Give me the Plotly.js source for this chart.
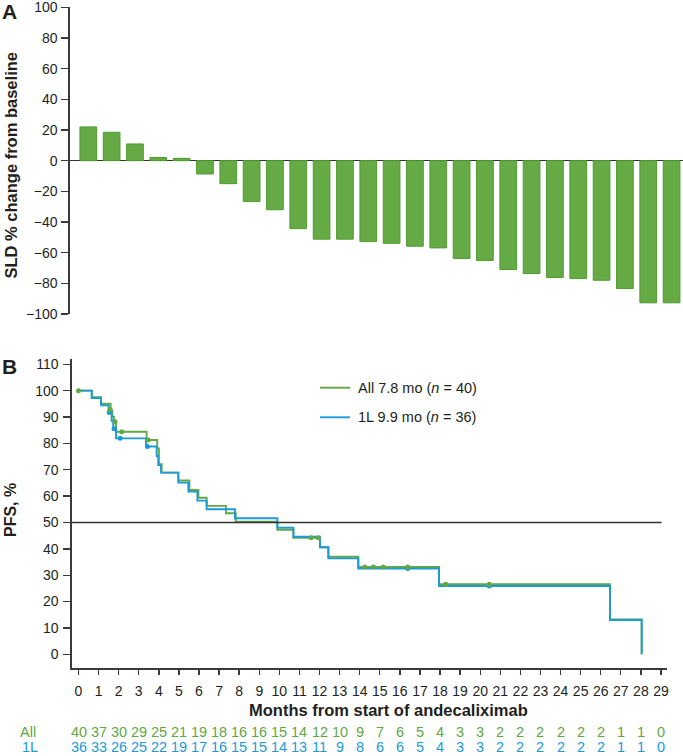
<!DOCTYPE html>
<html>
<head>
<meta charset="utf-8">
<script src="https://cdn.plot.ly/plotly-3.0.1.min.js"></script>
<style>html,body{margin:0;padding:0;background:#fff;}#chart{width:683px;height:756px;}</style>
</head>
<body>
<div id="chart"></div>
<script>
// ---- Panel A: waterfall (SLD % change from baseline) ----
const patientIndex = [1,2,3,4,5,6,7,8,9,10,11,12,13,14,15,16,17,18,19,20,21,22,23,24,25,26];
const sldChange = [22, 18.5, 10.9, 2, 1.5, -8.7, -15, -26.7, -32, -44.3, -51.2, -51.2, -52.8, -53.9, -55.8, -56.9, -63.8, -65.1, -71, -73.6, -76.2, -76.9, -78, -83.4, -92.7, -92.7];
const sldTicks = [100, 80, 60, 40, 20, 0, -20, -40, -60, -80, -100];

// ---- Panel B: Kaplan-Meier PFS ----
const allTime = [0, 0.66, 1.12, 1.6, 1.68, 1.76, 1.87, 3.39, 3.92, 4.0, 4.14, 4.97, 5.52, 5.97, 6.38, 7.34, 7.83, 9.9, 10.7, 12.02, 12.44, 13.93, 17.95, 26.46, 28.04];
const allPFS  = [100, 97.5, 95, 92.5, 90.1, 88.2, 84.4, 81.3, 78.1, 72.1, 68.9, 65.9, 62.3, 59.4, 56.3, 53.5, 50.3, 47.2, 44.2, 40.6, 37.0, 33.1, 26.6, 13.2, 0];
const allCensorTime = [0, 1.57, 1.82, 2.15, 3.48, 11.58, 11.94, 14.26, 14.68, 15.17, 16.39, 18.28, 20.45];
const allCensorPFS  = [100, 92.8, 88.2, 84.4, 81.3, 44.2, 44.2, 33.1, 33.1, 33.1, 33.1, 26.6, 26.6];

const l1Time = [0, 0.66, 1.12, 1.5, 1.65, 1.73, 1.87, 3.36, 3.89, 3.97, 4.11, 4.97, 5.47, 5.92, 6.38, 7.79, 9.9, 10.7, 12.02, 12.44, 13.93, 17.95, 26.46, 28.04];
const l1PFS  = [100, 97.2, 94.4, 91.7, 88.6, 85.5, 81.9, 78.8, 75.2, 71.8, 68.9, 65.1, 61.7, 58.3, 55.0, 51.6, 48.0, 44.6, 40.6, 36.4, 32.5, 25.9, 13.0, 0];
const l1CensorTime = [1.53, 1.77, 2.07, 3.43, 16.39, 20.45];
const l1CensorPFS  = [91.7, 85.5, 81.9, 78.8, 32.5, 25.9];

const monthTicks = [0,1,2,3,4,5,6,7,8,9,10,11,12,13,14,15,16,17,18,19,20,21,22,23,24,25,26,27,28,29];
const atRiskAll = [40,37,30,29,25,21,19,18,16,16,15,14,12,10,9,7,6,5,4,3,3,2,2,2,2,2,2,1,1,0];
const atRisk1L  = [36,33,26,25,22,19,17,16,15,15,14,13,11,9,8,6,6,5,4,3,3,2,2,2,2,2,2,1,1,0];
const pfsTicks = [0,10,20,30,40,50,60,70,80,90,100,110];

const legendLabels = ['All 7.8 mo (<i>n</i> = 40)', '1L 9.9 mo (<i>n</i> = 36)'];
const rowLabels = ['All', '1L'];

const GREEN = '#62a843';
const BLUE = '#1b9ad9';
const AXIS = '#3a3a3a';
const TXT = '#231f20';
const FONT = 'Liberation Sans, Arial, Helvetica, sans-serif';

const W = 683, H = 756;
const px = x => x / W;
const py = y => 1 - y / H;

const traces = [
  {
    type: 'bar', x: patientIndex, y: sldChange, xaxis: 'x', yaxis: 'y',
    marker: {color: '#65aa45', line: {color: '#4f9c2f', width: 1}},
    hoverinfo: 'y', showlegend: false
  },
  {
    type: 'scatter', mode: 'lines', x: allTime, y: allPFS, xaxis: 'x2', yaxis: 'y2',
    line: {color: GREEN, width: 1.9, shape: 'hv'}, showlegend: false, name: 'All'
  },
  {
    type: 'scatter', mode: 'lines', x: l1Time, y: l1PFS, xaxis: 'x2', yaxis: 'y2',
    line: {color: BLUE, width: 1.9, shape: 'hv'}, showlegend: false, name: '1L'
  },
  {
    type: 'scatter', mode: 'markers', x: l1CensorTime, y: l1CensorPFS, xaxis: 'x2', yaxis: 'y2',
    marker: {color: BLUE, size: 5}, showlegend: false, name: '1L censored'
  },
  {
    type: 'scatter', mode: 'markers', x: allCensorTime, y: allCensorPFS, xaxis: 'x2', yaxis: 'y2',
    marker: {color: GREEN, size: 5}, showlegend: false, name: 'All censored'
  }
];

const annotations = [];
// Panel letters
annotations.push({text: '<b>A</b>', xref: 'paper', yref: 'paper', x: px(9), y: py(12), xanchor: 'center', yanchor: 'middle', showarrow: false, font: {size: 21, color: TXT}});
annotations.push({text: '<b>B</b>', xref: 'paper', yref: 'paper', x: px(9), y: py(366), xanchor: 'center', yanchor: 'middle', showarrow: false, font: {size: 21, color: TXT}});
// Axis titles
annotations.push({text: '<b>SLD % change from baseline</b>', xref: 'paper', yref: 'paper', x: px(10), y: py(165.5), xanchor: 'center', yanchor: 'middle', textangle: -90, showarrow: false, font: {size: 16.5, color: TXT}});
annotations.push({text: '<b>PFS, %</b>', xref: 'paper', yref: 'paper', x: px(10), y: py(510), xanchor: 'center', yanchor: 'middle', textangle: -90, showarrow: false, font: {size: 16, color: TXT}});
annotations.push({text: '<b>Months from start of andecaliximab</b>', xref: 'paper', yref: 'paper', x: px(388), y: py(710), xanchor: 'center', yanchor: 'middle', showarrow: false, font: {size: 16.5, color: TXT}});
// Legend
annotations.push({text: legendLabels[0], xref: 'paper', yref: 'paper', x: px(356), y: py(387.7), xanchor: 'left', yanchor: 'middle', showarrow: false, font: {size: 14.5, color: TXT}});
annotations.push({text: legendLabels[1], xref: 'paper', yref: 'paper', x: px(356), y: py(417.3), xanchor: 'left', yanchor: 'middle', showarrow: false, font: {size: 14.5, color: TXT}});
// Number at risk table
const ROW1 = 732, ROW2 = 747;
annotations.push({text: rowLabels[0], xref: 'paper', yref: 'paper', x: px(28), y: py(ROW1), xanchor: 'center', yanchor: 'middle', showarrow: false, font: {size: 14.5, color: GREEN}});
annotations.push({text: rowLabels[1], xref: 'paper', yref: 'paper', x: px(29.5), y: py(ROW2), xanchor: 'center', yanchor: 'middle', showarrow: false, font: {size: 14.5, color: BLUE}});
monthTicks.forEach((m, i) => {
  annotations.push({text: String(atRiskAll[i]), xref: 'x2', yref: 'paper', x: m, y: py(ROW1), xanchor: 'center', yanchor: 'middle', showarrow: false, font: {size: 14.5, color: GREEN}});
  annotations.push({text: String(atRisk1L[i]), xref: 'x2', yref: 'paper', x: m, y: py(ROW2), xanchor: 'center', yanchor: 'middle', showarrow: false, font: {size: 14.5, color: BLUE}});
});

const shapes = [
  // 50% reference line
  {type: 'line', xref: 'x2', yref: 'y2', x0: -0.3236, x1: 29.03, y0: 50, y1: 50, line: {color: '#333', width: 1.6}},
  // legend keys
  {type: 'line', xref: 'paper', yref: 'paper', x0: px(320), x1: px(350), y0: py(387.7), y1: py(387.7), line: {color: GREEN, width: 1.9}},
  {type: 'line', xref: 'paper', yref: 'paper', x0: px(320), x1: px(350), y0: py(417.3), y1: py(417.3), line: {color: BLUE, width: 1.9}}
];

const layout = {
  width: W, height: H, autosize: false,
  margin: {l: 0, r: 0, t: 0, b: 0, pad: 0},
  paper_bgcolor: '#fff', plot_bgcolor: '#fff',
  font: {family: FONT, color: TXT, size: 14},
  showlegend: false,
  bargap: 0.284,
  xaxis: {
    domain: [px(70), 1], range: [0.2156, 26.49], visible: false, fixedrange: true
  },
  yaxis: {
    domain: [py(314), py(7.3)], range: [-100, 100],
    tickmode: 'array', tickvals: sldTicks, ticktext: sldTicks.map(v => v < 0 ? '\u2212' + Math.abs(v) : String(v)),
    ticks: 'outside', ticklen: 7, tickwidth: 1.4, tickcolor: AXIS,
    showline: true, linecolor: AXIS, linewidth: 1.6,
    showgrid: false, zeroline: true, zerolinecolor: '#333', zerolinewidth: 1.6,
    tickfont: {size: 14, color: TXT}, ticklabelstandoff: 1, ticklabeloverflow: 'allow', fixedrange: true
  },
  xaxis2: {
    domain: [px(72), px(667)], range: [-0.3236, 29.3], anchor: 'y2',
    tickmode: 'array', tickvals: monthTicks, ticktext: monthTicks.map(String),
    ticks: 'outside', ticklen: 5, tickwidth: 1.4, tickcolor: AXIS,
    showline: true, linecolor: AXIS, linewidth: 1.6,
    showgrid: false, zeroline: false,
    tickfont: {size: 14, color: TXT}, ticklabelstandoff: 4, ticklabeloverflow: 'allow', fixedrange: true
  },
  yaxis2: {
    domain: [py(668.3), py(359)], range: [-5.31, 112.0], anchor: 'x2',
    tickmode: 'array', tickvals: pfsTicks, ticktext: pfsTicks.map(String),
    ticks: 'outside', ticklen: 7, tickwidth: 1.4, tickcolor: AXIS,
    showline: true, linecolor: AXIS, linewidth: 1.6,
    showgrid: false, zeroline: false,
    tickfont: {size: 14, color: TXT}, ticklabelstandoff: 2, ticklabeloverflow: 'allow', fixedrange: true
  },
  annotations: annotations,
  shapes: shapes
};

Plotly.newPlot('chart', traces, layout, {displayModeBar: false, staticPlot: true});
</script>
</body>
</html>
